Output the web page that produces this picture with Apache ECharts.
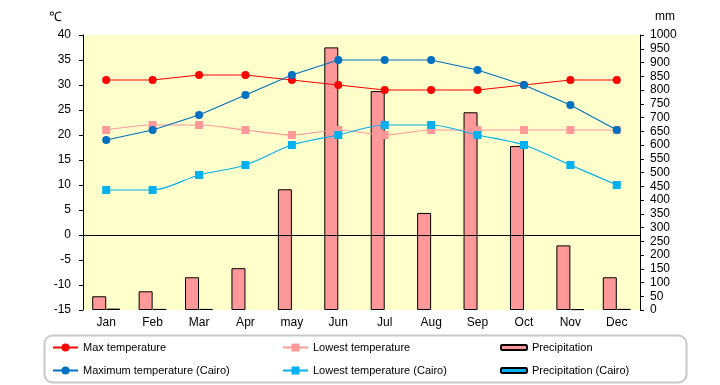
<!DOCTYPE html>
<html>
<head>
<meta charset="utf-8">
<script src="https://cdn.jsdelivr.net/npm/echarts@6/dist/echarts.min.js"></script>
<style>html,body{margin:0;padding:0;background:#fff}#c{width:720px;height:385px}</style>
</head>
<body>
<div id="c"></div>
<script>
const months = ['Jan','Feb','Mar','Apr','may','Jun','Jul','Aug','Sep','Oct','Nov','Dec'];
const maxTemp = [31,31,32,32,31,30,29,29,29,30,31,31];
const lowTemp = [21,22,22,21,20,21,20,21,21,21,21,21];
const precip = [50,68,119,152,439,955,796,353,719,596,235,119];
const cairoMax = [19,21,24,28,32,35,35,35,33,30,26,21];
const cairoLow = [9,9,12,14,18,20,22,22,20,18,14,10];
const cairoPrecip = [5,4,4,0,0,0,0,0,0,0,3,4];

const FONT = 'Liberation Sans';
const chart = echarts.init(document.getElementById('c'), null, {renderer:'canvas'});
const legendText = {fontFamily: FONT, fontSize: 11, color: '#000'};
chart.setOption({
  animation: false,
  textStyle: {fontFamily: FONT},
  grid: {left: 83, right: 80, top: 35, bottom: 75, show: true, backgroundColor: '#FFFFCC', borderWidth: 0},
  xAxis: {
    type: 'category', data: months,
    axisLine: {show: false}, axisTick: {show: false},
    axisLabel: {color: '#000', fontSize: 12, fontFamily: FONT, margin: 7}
  },
  yAxis: [
    {type: 'value', min: -15, max: 40, interval: 5,
     axisLine: {show: true, lineStyle: {color: '#000'}},
     axisTick: {show: true, length: 4, lineStyle: {color: '#000'}},
     axisLabel: {color: '#000', fontSize: 12, fontFamily: FONT, margin: 12},
     splitLine: {show: false}},
    {type: 'value', min: 0, max: 1000, interval: 50,
     axisLine: {show: true, lineStyle: {color: '#000'}},
     axisTick: {show: true, length: 4, lineStyle: {color: '#000'}},
     axisLabel: {color: '#000', fontSize: 12, fontFamily: FONT, margin: 10, formatter: v => String(v)},
     splitLine: {show: false}}
  ],
  legend: [
    {left: 52, top: 342, padding: 0, orient: 'vertical', itemGap: 12, itemWidth: 25, itemHeight: 10, textStyle: legendText,
     data: ['Max temperature', 'Maximum temperature (Cairo)']},
    {left: 282, top: 342, padding: 0, orient: 'vertical', itemGap: 12, itemWidth: 25, itemHeight: 10, textStyle: legendText,
     data: ['Lowest temperature', 'Lowest temperature (Cairo)']},
    {left: 500, top: 342, padding: 0, orient: 'vertical', itemGap: 12, itemWidth: 26, itemHeight: 5, textStyle: legendText,
     data: ['Precipitation', 'Precipitation (Cairo)']}
  ],
  graphic: [
    {type: 'rect', left: 42, top: 333, shape: {width: 642, height: 47, r: 8}, style: {fill: 'none', stroke: '#C8C8C8', lineWidth: 2}, z: -1},
    {type: 'text', left: 49, top: 11, style: {text: '℃', font: '13px ' + FONT, fill: '#000'}},
    {type: 'text', left: 655, top: 11, style: {text: 'mm', font: '12px ' + FONT, fill: '#000'}}
  ],
  series: [
    {name: 'Precipitation', type: 'bar', yAxisIndex: 1, data: precip, barWidth: 14, barGap: '0%',
     itemStyle: {color: '#FF9999', borderColor: '#000', borderWidth: 1}, z: 1},
    {name: 'Precipitation (Cairo)', type: 'bar', yAxisIndex: 1, data: cairoPrecip.map(v => v === 0 ? '-' : v), barWidth: 14, barGap: '0%',
     itemStyle: {color: '#00B0F0', borderColor: '#000', borderWidth: 1}, z: 1},
    {name: 'Max temperature', type: 'line', data: maxTemp, symbol: 'circle', symbolSize: 8,
     lineStyle: {color: '#FF0000', width: 1.2}, itemStyle: {color: '#FF0000'}, z: 5,
     markLine: {silent: true, symbol: 'none', label: {show: false}, lineStyle: {color: '#000', width: 1, type: 'solid'}, data: [{yAxis: 0}]}},
    {name: 'Lowest temperature', type: 'line', data: lowTemp, symbol: 'rect', symbolSize: 8, smooth: 0.3,
     lineStyle: {color: '#FF9999', width: 1.2}, itemStyle: {color: '#FF9999'}, z: 4},
    {name: 'Maximum temperature (Cairo)', type: 'line', data: cairoMax, symbol: 'circle', symbolSize: 8,
     lineStyle: {color: '#0070C0', width: 1.2}, itemStyle: {color: '#0070C0'}, z: 5},
    {name: 'Lowest temperature (Cairo)', type: 'line', data: cairoLow, symbol: 'rect', symbolSize: 8, smooth: 0.3,
     lineStyle: {color: '#00B0F0', width: 1.2}, itemStyle: {color: '#00B0F0'}, z: 4}
  ]
});
</script>
</body>
</html>
